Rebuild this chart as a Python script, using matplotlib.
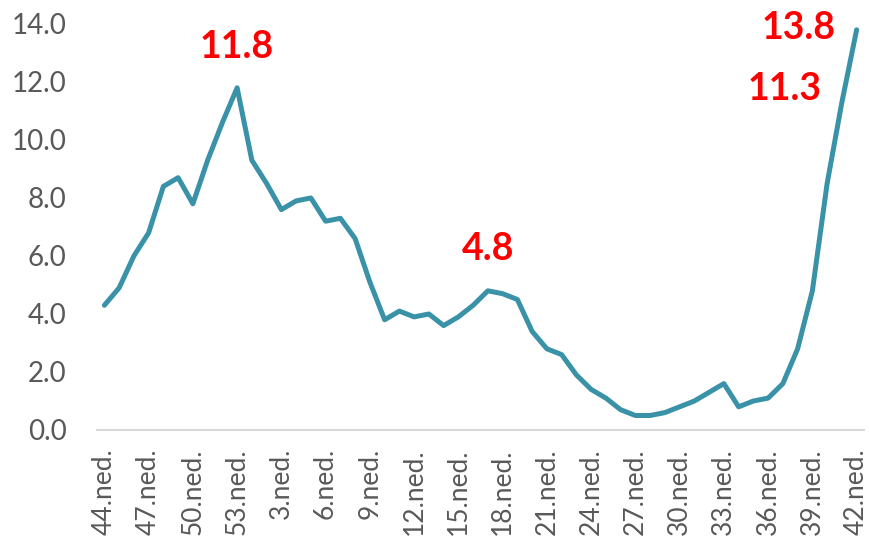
import matplotlib
matplotlib.use("Agg")
import matplotlib.pyplot as plt

weeks = [44, 45, 46, 47, 48, 49, 50, 51, 52, 53] + list(range(1, 43))
values = [4.3, 4.9, 6.0, 6.8, 8.4, 8.7, 7.8, 9.3, 10.6, 11.8,
          9.3, 8.5, 7.6, 7.9, 8.0, 7.2, 7.3, 6.6, 5.1, 3.8,
          4.1, 3.9, 4.0, 3.6, 3.9, 4.3, 4.8, 4.7, 4.5, 3.4,
          2.8, 2.6, 1.9, 1.4, 1.1, 0.7, 0.5, 0.5, 0.6, 0.8,
          1.0, 1.3, 1.6, 0.8, 1.0, 1.1, 1.6, 2.8, 4.8, 8.5,
          11.3, 13.8]
labels = [f"{w}.ned." for w in weeks]
annot_index = [9, 26, 50, 51]
annot_text = ["11.8", "4.8", "11.3", "13.8"]
yticks = [0, 2, 4, 6, 8, 10, 12, 14]

plt.rcParams['font.family'] = ['Lato', 'DejaVu Sans']

fig = plt.figure(figsize=(8.69, 5.5), dpi=100)
ax = fig.add_axes([97/869, 120/550, 767/869, 406/550])
x = list(range(len(values)))
ax.plot(x, values, color='#3A92A8', lw=3.6, solid_joinstyle='round',
        solid_capstyle='round', clip_on=False)

ax.set_xlim(-0.5, len(values) - 0.5)
ax.set_ylim(0, 14)
ax.set_yticks(yticks)
ax.set_yticklabels([f"{v:.1f}" for v in yticks], color='#595959', fontsize=20)
tick_idx = x[::3]
ax.set_xticks(tick_idx)
ax.set_xticklabels([labels[i] for i in tick_idx], rotation=90, color='#595959', fontsize=19)
ax.tick_params(axis='both', length=0)
ax.tick_params(axis='y', pad=22)
ax.tick_params(axis='x', pad=13)
for s in ['top', 'right', 'left']:
    ax.spines[s].set_visible(False)
ax.spines['bottom'].set_color('#D9D9D9')
ax.spines['bottom'].set_linewidth(1.5)

# label offsets (in data units) from their data point
offsets = {"11.8": (0.0, 1.4), "4.8": (0.0, 1.45), "11.3": (-3.9, 0.45), "13.8": (-3.95, 0.05)}
for i, t in zip(annot_index, annot_text):
    dx, dy = offsets[t]
    ax.text(x[i] + dx, values[i] + dy, t, color='#FF0000', fontsize=27, fontweight='bold',
            ha='center', va='center', clip_on=False)

fig.savefig("out.png", dpi=100)
